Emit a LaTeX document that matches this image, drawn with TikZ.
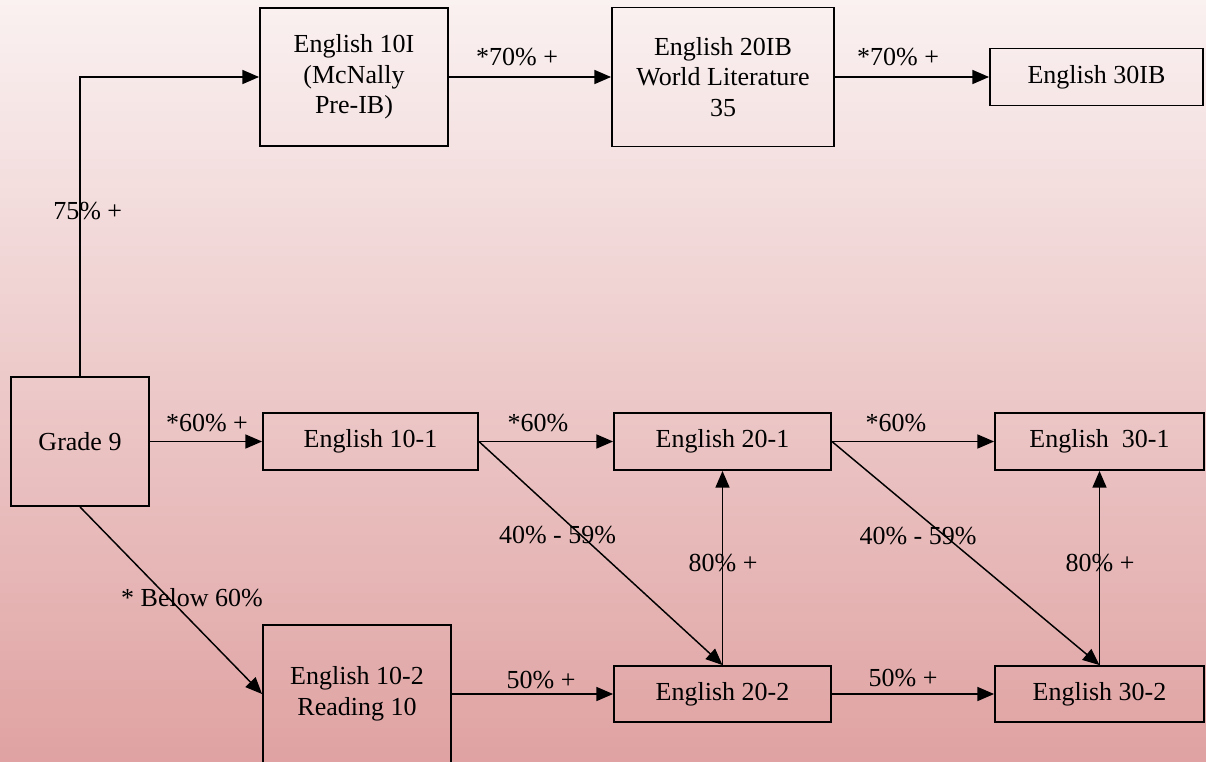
\documentclass[tikz,border=0pt]{standalone}
\usepackage{fontspec}
\setmainfont{Liberation Serif}
\usetikzlibrary{arrows.meta}
\definecolor{bgtop}{RGB}{250,241,241}
\definecolor{bgbot}{RGB}{224,162,162}
\begin{document}
\begin{tikzpicture}[x=0.75pt,y=-0.75pt,
  font=\fontsize{19.5}{23}\selectfont,
  box/.style={draw, line width=1.4pt, align=center, inner sep=0pt, yshift=0pt},
  link/.style={line width=1.1pt, -{Triangle[length=12.5pt,width=10.5pt]}},
  lbl/.style={inner sep=0pt}]
% page and its shaded background
\useasboundingbox (0,0) rectangle (1206,761);
\shade[top color=bgtop, bottom color=bgbot] (0,0) rectangle (1206,761);

% course boxes
\node[box, minimum width=103.5pt, minimum height=96.75pt] (g9) at (80,441.5) {Grade 9};
\node[box, minimum width=141pt, minimum height=103.5pt] (e10i) at (354,77) {English 10I\\(McNally\\Pre-IB)};
\node[box, minimum width=166.5pt, minimum height=104.25pt] (e20ib) at (723,77) {English 20IB\\World Literature\\35};
\node[box, minimum width=159.75pt, minimum height=42.75pt] (e30ib) at (1096.5,77) {English 30IB};
\node[box, minimum width=161.25pt, minimum height=42.75pt] (e101) at (370.5,441.5) {English 10-1};
\node[box, minimum width=162.75pt, minimum height=42.75pt] (e201) at (722.5,441.5) {English 20-1};
\node[box, minimum width=156.75pt, minimum height=42.75pt] (e301) at (1099.5,441.5) {English~~30-1};
\node[box, minimum width=141pt, minimum height=103.5pt] (e102) at (357,694) {English 10-2\\Reading 10};
\node[box, minimum width=162.75pt, minimum height=42pt] (e202) at (722.5,694) {English 20-2};
\node[box, minimum width=156.75pt, minimum height=42pt] (e302) at (1099.5,694) {English 30-2};

% connectors
\draw[link] (g9.north) |- (e10i.west);
\draw[link] (e10i.east) -- (e20ib.west);
\draw[link] (e20ib.east) -- (e30ib.west);
\draw[link] (g9.east) -- (e101.west);
\draw[link] (e101.east) -- (e201.west);
\draw[link] (e201.east) -- (e301.west);
\draw[link] (e101.east) -- (e202.north);
\draw[link] (e201.east) -- (e302.north);
\draw[link] (e202.north) -- (e201.south);
\draw[link] (e302.north) -- (e301.south);
\draw[link] (g9.south) -- (e102.west);
\draw[link] (e102.east) -- (e202.west);
\draw[link] (e202.east) -- (e302.west);

% connector labels
\node[lbl, anchor=west] (l75) at (53,211) {75\% +};
\node[lbl] (l70a) at (517,57) {*70\% +};
\node[lbl] (l70b) at (898,57) {*70\% +};
\node[lbl] (l60a) at (207,423) {*60\% +};
\node[lbl] (l60b) at (538,423) {*60\%};
\node[lbl] (l60c) at (896,423) {*60\%};
\node[lbl] (l4059a) at (557.5,535) {40\% - 59\%};
\node[lbl] (l4059b) at (918,536) {40\% - 59\%};
\node[lbl] (l80a) at (723,563) {80\% +};
\node[lbl] (l80b) at (1100,563) {80\% +};
\node[lbl] (lbelow) at (192,598) {* Below 60\%};
\node[lbl] (l50a) at (541,680) {50\% +};
\node[lbl] (l50b) at (903,678) {50\% +};
\end{tikzpicture}
\end{document}
